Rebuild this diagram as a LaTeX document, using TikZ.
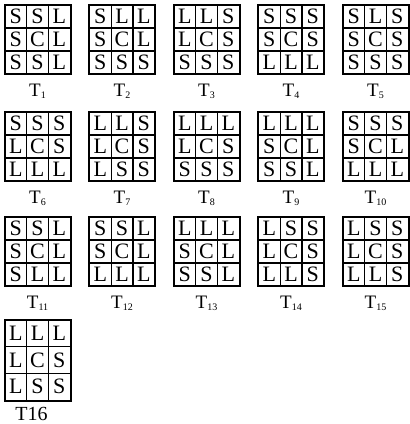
\documentclass[tikz,border=0pt]{standalone}
\usepackage{fontspec}
\setmainfont{Liberation Serif}
\usetikzlibrary{calc}
\tikzset{
  cell/.style={draw, line width=1.2pt, minimum width=21.7pt, inner sep=0pt, font=\fontsize{22}{22}\selectfont},
  frame/.style={line width=1.7pt},
  lab/.style={anchor=base, inner sep=0pt, font=\fontsize{19}{19}\selectfont}
}
\newcommand\tgrid[6]{%
  \foreach \l [count=\i from 0] in {#5} {
    \pgfmathtruncatemacro\rr{\i/3}
    \pgfmathtruncatemacro\cc{mod(\i,3)}
    \node[cell, minimum height=#4pt] (#1-\i) at ({(#2+(\cc+0.5)*21.7)*1pt}, {-(#3+(\rr+0.5)*#4)*1pt}) {\l};
  }
  \draw[frame] (#1-0.north west) rectangle (#1-8.south east);
  \node[lab] (#1-lab) at ($(#1-7.south)+(0,-22pt)$) {T\raisebox{-1.5pt}{\fontsize{10}{10}\selectfont #6}};
}
\begin{document}
\begin{tikzpicture}
\useasboundingbox (0,0) rectangle (410pt,-424pt);
\tgrid{t1}{5}{5}{23}{S,S,L,S,C,L,S,S,L}{1}
\tgrid{t2}{89.5}{5}{23}{S,L,L,S,C,L,S,S,S}{2}
\tgrid{t3}{174}{5}{23}{L,L,S,L,C,S,S,S,S}{3}
\tgrid{t4}{258.5}{5}{23}{S,S,S,S,C,S,L,L,L}{4}
\tgrid{t5}{343}{5}{23}{S,L,S,S,C,S,S,S,S}{5}
\tgrid{t6}{5}{112}{23}{S,S,S,L,C,S,L,L,L}{6}
\tgrid{t7}{89.5}{112}{23}{L,L,S,L,C,S,L,S,S}{7}
\tgrid{t8}{174}{112}{23}{L,L,L,L,C,S,S,S,S}{8}
\tgrid{t9}{258.5}{112}{23}{L,L,L,S,C,L,S,S,L}{9}
\tgrid{t10}{343}{112}{23}{S,S,S,S,C,L,L,L,L}{10}
\tgrid{t11}{5}{217}{23}{S,S,L,S,C,L,S,L,L}{11}
\tgrid{t12}{89.5}{217}{23}{S,S,L,S,C,L,L,L,L}{12}
\tgrid{t13}{174}{217}{23}{L,L,L,S,C,L,S,S,L}{13}
\tgrid{t14}{258.5}{217}{23}{L,S,S,L,C,S,L,L,S}{14}
\tgrid{t15}{343}{217}{23}{L,S,S,L,C,S,L,L,S}{15}
% T16
\foreach \l [count=\i from 0] in {L,L,L,L,C,S,L,S,S} {
  \pgfmathtruncatemacro\rr{\i/3}
  \pgfmathtruncatemacro\cc{mod(\i,3)}
  \node[cell, minimum height=26.7pt] (t16-\i) at ({(5+(\cc+0.5)*21.7)*1pt}, {-(320+(\rr+0.5)*26.7)*1pt}) {\l};
}
\draw[frame] (t16-0.north west) rectangle (t16-8.south east);
\node[lab, font=\fontsize{20}{20}\selectfont] (t16-lab) at (31.5pt,-420pt) {T16};
\end{tikzpicture}
\end{document}
